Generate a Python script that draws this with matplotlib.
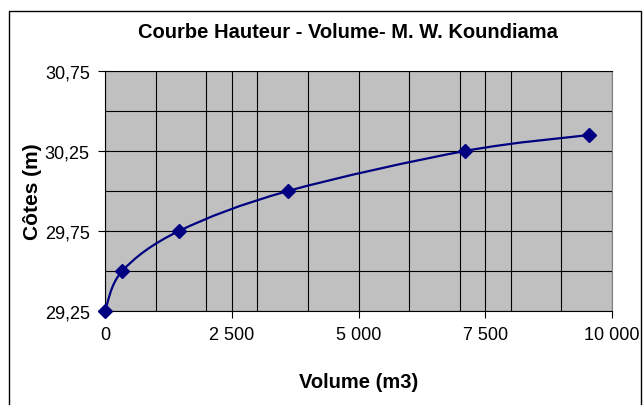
import numpy as np
import matplotlib.pyplot as plt
from matplotlib.path import Path
from matplotlib.patches import PathPatch, Rectangle
from matplotlib.ticker import MultipleLocator, FuncFormatter

plt.rcParams['font.family'] = ['Liberation Sans', 'DejaVu Sans']

# donnees
volume = [0, 340, 1460, 3610, 7100, 9550]
cotes = [29.25, 29.50, 29.75, 30.00, 30.25, 30.35]

titre = 'Courbe Hauteur - Volume- M. W. Koundiama'
xlab = 'Volume (m3)'
ylab = 'Côtes (m)'

navy = '#000080'


def lisse(x, y):
    # courbe lissee facon Excel (bezier cubique, controles Catmull-Rom)
    p = np.column_stack([x, y])
    n = len(p)
    verts = [p[0]]
    codes = [Path.MOVETO]
    for i in range(n - 1):
        p0 = p[i - 1] if i > 0 else p[i]
        p1 = p[i]
        p2 = p[i + 1]
        p3 = p[i + 2] if i + 2 < n else p[i + 1]
        c1 = p1 + (p2 - p0) / 6
        c2 = p2 - (p3 - p1) / 6
        verts += [c1, c2, p2]
        codes += [Path.CURVE4] * 3
    return Path(verts, codes)


fig = plt.figure(figsize=(6.43, 4.06), dpi=100)
fig.patches.append(Rectangle((9 / 643, -0.05), 632 / 643, 1.05 - 12 / 406,
                             transform=fig.transFigure, fill=False,
                             edgecolor='black', linewidth=1))

ax = fig.add_axes([105 / 643, 1 - 312 / 406, 507 / 643, 240 / 406])
ax.set_facecolor('#C0C0C0')

ax.add_patch(PathPatch(lisse(volume, cotes), facecolor='none',
                       edgecolor=navy, linewidth=1.6, zorder=3))
ax.plot(volume, cotes, linestyle='none', marker='D', markersize=7,
        color=navy, zorder=4, clip_on=False)

ax.set_xlim(0, 10000)
ax.set_ylim(29.25, 30.75)

ax.xaxis.set_major_locator(MultipleLocator(2500))
ax.xaxis.set_minor_locator(MultipleLocator(1000))
ax.yaxis.set_major_locator(MultipleLocator(0.5, offset=0.25))
ax.yaxis.set_minor_locator(MultipleLocator(0.25))

ax.xaxis.set_major_formatter(FuncFormatter(lambda v, p: f'{v:,.0f}'.replace(',', ' ')))
ax.yaxis.set_major_formatter(FuncFormatter(lambda v, p: f'{v:.2f}'.replace('.', ',')))

ax.grid(which='both', color='black', linewidth=0.8)
ax.set_axisbelow(True)
ax.tick_params(which='major', direction='out', length=5, width=0.8,
               labelsize=13, pad=6)
ax.tick_params(which='minor', length=0)

for s in ['left', 'bottom', 'top']:
    ax.spines[s].set_color('black')
    ax.spines[s].set_linewidth(0.8)
ax.spines['right'].set_color('#808080')

ax.set_xlabel(xlab, fontsize=14.5, fontweight='bold', labelpad=21)
ax.set_ylabel(ylab, fontsize=15, fontweight='bold', labelpad=2)
fig.text(348 / 643, 1 - 33 / 406, titre, ha='center', va='center',
         fontsize=14.5, fontweight='bold')

fig.savefig('out.png', dpi=100)
